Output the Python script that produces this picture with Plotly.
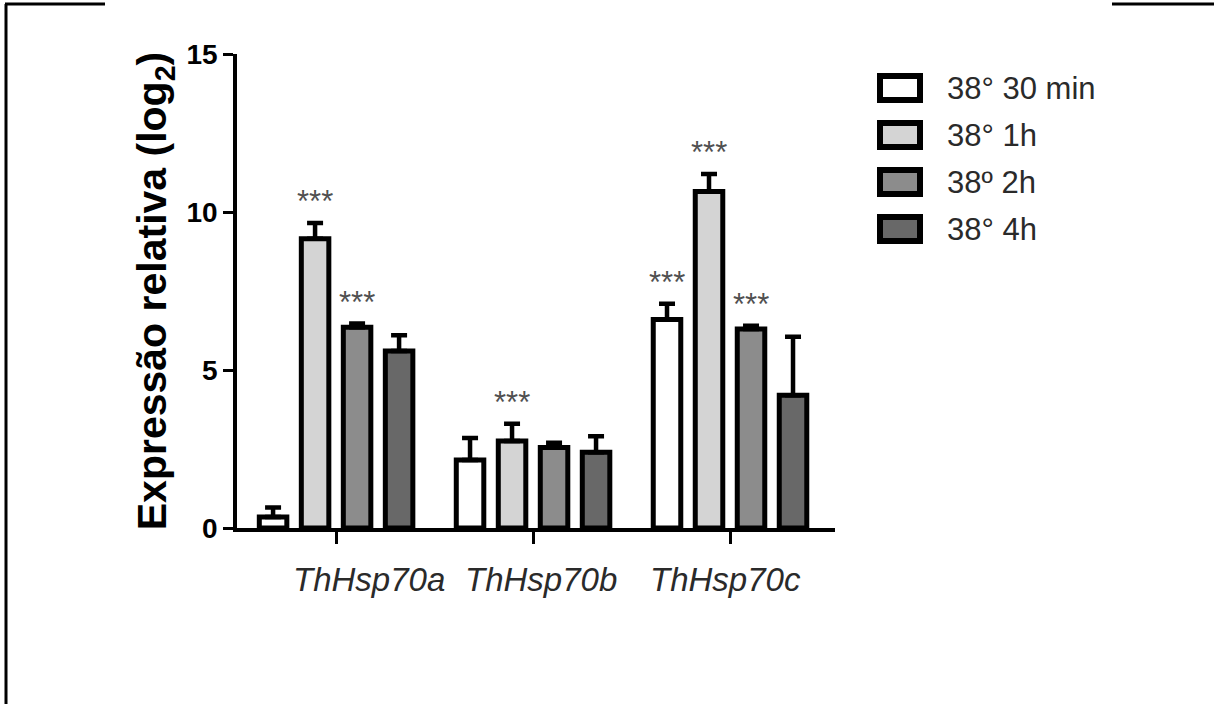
import plotly.graph_objects as go

# Genes (x categories) and heat-shock time points (series)
genes = ["ThHsp70a", "ThHsp70b", "ThHsp70c"]
series_names = ["38° 30 min", "38° 1h", "38º 2h", "38° 4h"]

# Mean relative expression (log2) per series, one value per gene
expr_30min = [0.35, 2.15, 6.6]
expr_1h = [9.15, 2.75, 10.65]
expr_2h = [6.35, 2.55, 6.3]
expr_4h = [5.6, 2.4, 4.2]

# Upper error (SD) per series
err_30min = [0.3, 0.7, 0.5]
err_1h = [0.5, 0.55, 0.55]
err_2h = [0.12, 0.15, 0.1]
err_4h = [0.5, 0.5, 1.85]

# Significance marks per series
sig_30min = ["", "", "***"]
sig_1h = ["***", "***", "***"]
sig_2h = ["***", "", "***"]
sig_4h = ["", "", ""]

y_ticks = [0, 5, 10, 15]

means = [expr_30min, expr_1h, expr_2h, expr_4h]
errors = [err_30min, err_1h, err_2h, err_4h]
sigs = [sig_30min, sig_1h, sig_2h, sig_4h]
fills = ["#ffffff", "#d4d4d4", "#8c8c8c", "#686868"]

W, H = 1214, 704
# plot area in pixels
L, R, T, B = 237, 835, 54, 528
BARGAP = 0.147
X_RANGE = [-0.503, 2.533]
# horizontal nudge (px) of each gene label relative to its tick
LABEL_SHIFT = [33, 8, -5]


def px(x):
    return (x - L) / (R - L)


def py(y):
    return (B - y) / (B - T)


FONT = "Arial, Liberation Sans, sans-serif"

fig = go.Figure()
xs = list(range(len(genes)))
for name, m, e, c in zip(series_names, means, errors, fills):
    fig.add_trace(go.Bar(
        x=xs, y=m, name=name,
        marker=dict(color=c, line=dict(color="black", width=5)),
        error_y=dict(type="data", array=e, arrayminus=[0] * len(e),
                     symmetric=False, color="black", thickness=4.5, width=8),
        showlegend=False,
    ))

# significance asterisks above the error caps
n = len(series_names)
slot = (1 - BARGAP) / n
annotations = []
for i, (m, e, s) in enumerate(zip(means, errors, sigs)):
    off = -(1 - BARGAP) / 2 + slot * (i + 0.5)
    for g in xs:
        if s[g]:
            annotations.append(dict(
                x=g + off, y=m[g] + e[g], xref="x", yref="y",
                text=s[g], showarrow=False, yanchor="bottom", yshift=2,
                font=dict(family=FONT, size=31, color="#505050"),
            ))

# gene names under the category ticks
for g, name in enumerate(genes):
    annotations.append(dict(
        x=g, y=0, xref="x", yref="paper", text=f"<i>{name}</i>",
        showarrow=False, xanchor="center", yanchor="middle",
        xshift=LABEL_SHIFT[g], yshift=-51,
        font=dict(family=FONT, size=33, color="#2a2a2a"),
    ))

# legend drawn as framed swatches with labels
shapes = []
leg_x0, leg_x1 = 877, 923
leg_y = [88, 135, 182, 229]
for name, c, yc in zip(series_names, fills, leg_y):
    shapes.append(dict(type="rect", xref="paper", yref="paper",
                       x0=px(leg_x0 + 3), x1=px(leg_x1 - 3),
                       y0=py(yc + 12), y1=py(yc - 12),
                       fillcolor=c, line=dict(color="black", width=6)))
    annotations.append(dict(x=px(945), y=py(yc), xref="paper", yref="paper",
                            text=name, showarrow=False, xanchor="left",
                            yanchor="middle",
                            font=dict(family=FONT, size=31, color="#2a2a2a")))

# page frame lines
frame = dict(color="black", width=3)
shapes.append(dict(type="line", xref="paper", yref="paper",
                   x0=px(6), x1=px(6), y0=py(4), y1=py(704), line=frame))
shapes.append(dict(type="line", xref="paper", yref="paper",
                   x0=px(5), x1=px(105), y0=py(4), y1=py(4), line=frame))
shapes.append(dict(type="line", xref="paper", yref="paper",
                   x0=px(1112), x1=px(1214), y0=py(4), y1=py(4), line=frame))

fig.update_layout(
    width=W, height=H,
    margin=dict(l=L, r=W - R, t=T, b=H - B, pad=0),
    paper_bgcolor="white", plot_bgcolor="white",
    barmode="group", bargap=BARGAP, bargroupgap=0.345,
    annotations=annotations, shapes=shapes,
    font=dict(family=FONT, color="black"),
)
fig.update_xaxes(
    range=X_RANGE, tickmode="array", tickvals=xs,
    ticktext=["" for _ in genes],
    showline=True, linecolor="black", linewidth=3.5,
    ticks="outside", ticklen=12, tickwidth=2.5, tickcolor="black",
    showgrid=False, zeroline=False, automargin=False,
)
fig.update_yaxes(
    range=[0, 15], tickmode="array", tickvals=y_ticks,
    tickfont=dict(family=FONT, size=28, color="black", weight="bold"),
    showline=True, linecolor="black", linewidth=3.5,
    ticks="outside", ticklen=10, tickwidth=3, tickcolor="black",
    showgrid=False, zeroline=False, automargin=False,
    title=dict(text="<b>Expressão relativa (log<sub>2</sub>)</b>",
               font=dict(family=FONT, size=41, color="black"), standoff=8),
)

fig.write_html("out.html")
